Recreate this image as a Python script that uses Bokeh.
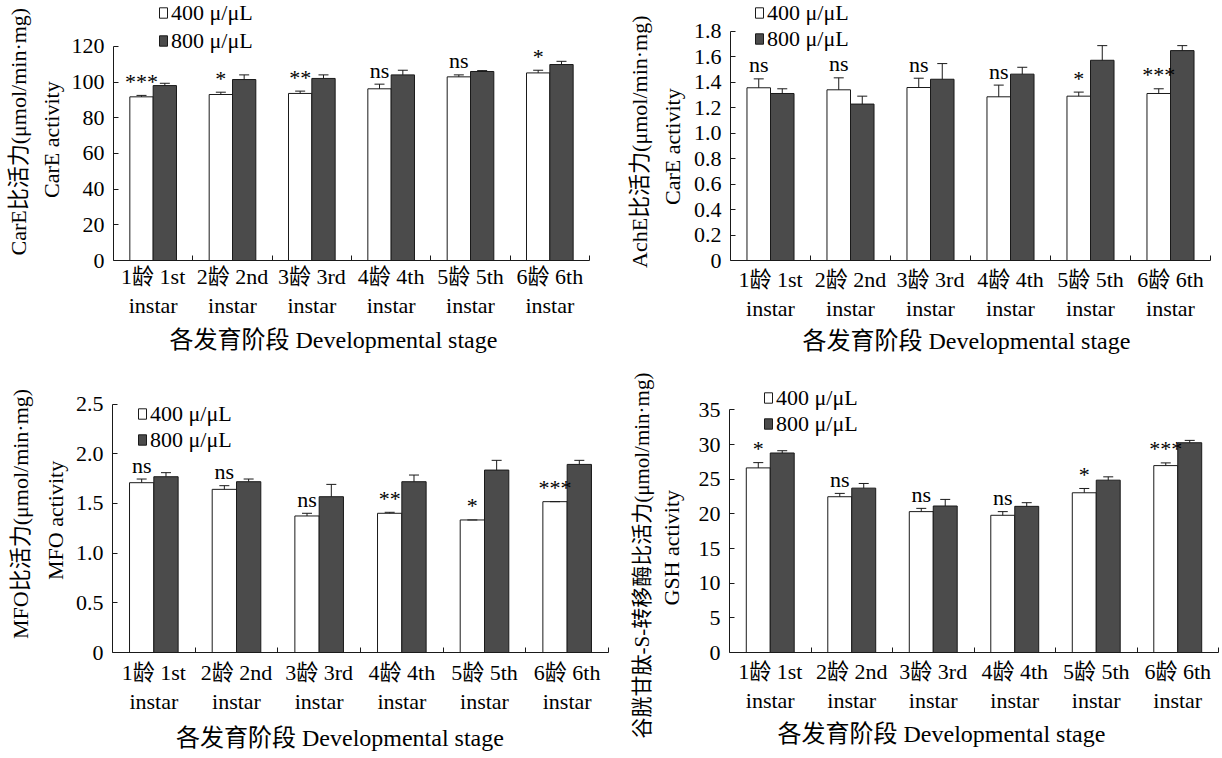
from bokeh.plotting import figure
from bokeh.models import (ColumnDataSource, Range1d, FixedTicker, Whisker, TeeHead,
                          Title, Legend, LegendItem)
from bokeh.layouts import column, row
from bokeh.transform import dodge
from bokeh.core.properties import value
from bokeh.embed import file_html
from bokeh.resources import INLINE

# ---------------- data ----------------
stages_cn = ["1龄", "2龄", "3龄", "4龄", "5龄", "6龄"]
stages_en = ["1st", "2nd", "3rd", "4th", "5th", "6th"]
stage_line2 = "instar"
series_names = ["400 μ/μL", "800 μ/μL"]
x_title = "各发育阶段 Developmental stage"

care_400 = [91.7, 93.0, 93.6, 96.2, 102.9, 105.1]
care_400_err = [0.8, 1.3, 1.3, 2.6, 1.1, 1.5]
care_800 = [98.0, 101.4, 102.0, 104.0, 105.9, 109.8]
care_800_err = [1.3, 2.6, 2.0, 2.6, 0.5, 1.8]
care_sig = ["***", "*", "**", "ns", "ns", "*"]
care_ticks = [0, 20, 40, 60, 80, 100, 120]
care_tick_labels = ["0", "20", "40", "60", "80", "100", "120"]
care_ylabel = ["CarE比活力(μmol/min·mg)", "CarE activity"]

ache_400 = [1.357, 1.341, 1.359, 1.286, 1.291, 1.312]
ache_400_err = [0.070, 0.094, 0.073, 0.092, 0.032, 0.037]
ache_800 = [1.312, 1.229, 1.424, 1.464, 1.573, 1.649]
ache_800_err = [0.037, 0.062, 0.123, 0.054, 0.115, 0.039]
ache_sig = ["ns", "ns", "ns", "ns", "*", "***"]
ache_ticks = [0, 0.2, 0.4, 0.6, 0.8, 1.0, 1.2, 1.4, 1.6, 1.8]
ache_tick_labels = ["0", "0.2", "0.4", "0.6", "0.8", "1.0", "1.2", "1.4", "1.6", "1.8"]
ache_ylabel = ["AchE比活力(μmol/min·mg)", "CarE activity"]

mfo_400 = [1.709, 1.642, 1.374, 1.401, 1.334, 1.518]
mfo_400_err = [0.037, 0.037, 0.027, 0.010, 0.0, 0.0]
mfo_800 = [1.769, 1.719, 1.568, 1.719, 1.836, 1.893]
mfo_800_err = [0.041, 0.027, 0.124, 0.067, 0.098, 0.041]
mfo_sig = ["ns", "ns", "ns", "**", "*", "***"]
mfo_ticks = [0, 0.5, 1.0, 1.5, 2.0, 2.5]
mfo_tick_labels = ["0", "0.5", "1.0", "1.5", "2.0", "2.5"]
mfo_ylabel = ["MFO比活力(μmol/min·mg)", "MFO activity"]

gsh_400 = [26.64, 22.48, 20.33, 19.80, 23.05, 26.97]
gsh_400_err = [0.76, 0.48, 0.47, 0.53, 0.62, 0.39]
gsh_800 = [28.79, 23.72, 21.14, 21.09, 24.87, 30.27]
gsh_800_err = [0.33, 0.67, 0.95, 0.53, 0.48, 0.34]
gsh_sig = ["*", "ns", "ns", "ns", "*", "***"]
gsh_ticks = [0, 5, 10, 15, 20, 25, 30, 35]
gsh_tick_labels = ["0", "5", "10", "15", "20", "25", "30", "35"]
gsh_ylabel = ["谷胱甘肽-S-转移酶比活力(μmol/min·mg)", "GSH activity"]

# ---------------- style ----------------
FONT = "Liberation Serif, Noto Sans CJK SC"
FS = "22px"
BW = 0.294
DARK = "#4b4b4b"
EDGE = "#1a1a1a"


def make_panel(W, H, bl, br, bb, axis_px, v4, e4, v8, e8, sig, ticks, tick_labels,
               ylab, ylab_fs, ylab_off, ylab_std, xl_std, xt_off, xt_std,
               leg_pos, leg_spacing):
    n = len(stages_cn)
    fh = H - bb                       # frame reaches the top of the canvas
    y_top = ticks[-1] * fh / axis_px  # extra room above the axis for legend
    p = figure(width=W, height=H, title=None, output_backend="svg", toolbar_location=None,
               x_range=Range1d(-0.5, n - 0.5), y_range=Range1d(0, y_top),
               min_border_left=bl, min_border_right=br, min_border_top=0,
               min_border_bottom=bb)
    p.outline_line_color = None
    p.grid.visible = False
    p.background_fill_color = "white"
    p.border_fill_color = "white"

    src = ColumnDataSource(dict(
        x=list(range(n)), v4=v4, t4=[a + b for a, b in zip(v4, e4)],
        v8=v8, t8=[a + b for a, b in zip(v8, e8)], sig=sig))

    r4 = p.vbar(x=dodge("x", -BW / 2), top="v4", bottom=0, width=BW, source=src,
                fill_color="white", line_color=EDGE, line_width=1)
    r8 = p.vbar(x=dodge("x", BW / 2), top="v8", bottom=0, width=BW, source=src,
                fill_color=DARK, line_color=EDGE, line_width=1)
    for off, lo, hi in ((-BW / 2, "v4", "t4"), (BW / 2, "v8", "t8")):
        p.add_layout(Whisker(source=src, base=dodge("x", off), lower=lo, upper=hi,
                             lower_head=None,
                             upper_head=TeeHead(size=10, line_color=EDGE, line_width=1),
                             line_color=EDGE, line_width=1, level="annotation"))
    p.text(x=dodge("x", -BW / 2), y="t4", text="sig", source=src, text_align="center",
           text_baseline="alphabetic", y_offset=-14, text_font=value(FONT),
           text_font_size=FS, text_color="black")

    xa = p.xaxis[0]
    xa.ticker = FixedTicker(ticks=list(range(n)), minor_ticks=[i + 0.5 for i in range(n)])
    xa.major_label_overrides = {i: f"{cn} {en}\n{stage_line2}"
                                for i, (cn, en) in enumerate(zip(stages_cn, stages_en))}
    xa.major_tick_in = 0
    xa.major_tick_out = 0
    xa.minor_tick_in = 5
    xa.minor_tick_out = 0
    xa.minor_tick_line_color = EDGE
    xa.axis_line_color = EDGE
    xa.major_label_text_font = FONT
    xa.major_label_text_font_size = FS
    xa.major_label_text_line_height = 1.16
    xa.major_label_standoff = xl_std
    xa.major_label_text_color = "black"

    ya = p.yaxis[0]
    ya.ticker = FixedTicker(ticks=ticks)
    ya.bounds = (0, ticks[-1])
    ya.major_label_overrides = {t: l for t, l in zip(ticks, tick_labels)}
    ya.major_tick_in = 5
    ya.major_tick_out = 0
    ya.minor_tick_line_color = None
    ya.axis_line_color = EDGE
    ya.major_tick_line_color = EDGE
    ya.major_label_text_font = FONT
    ya.major_label_text_font_size = FS
    ya.major_label_standoff = 9
    ya.major_label_text_color = "black"

    # y-axis title: line 2 next to the axis, line 1 outside it
    for txt, off, std, fs in ((ylab[1], ylab_off[1], ylab_std[1], FS),
                              (ylab[0], ylab_off[0], ylab_std[0], ylab_fs)):
        p.add_layout(Title(text=txt, align="left", offset=off, standoff=std,
                           text_font=FONT, text_font_size=fs, text_font_style="normal",
                           text_color="black"), "left")
    p.add_layout(Title(text=x_title, align="left", offset=xt_off, standoff=xt_std,
                       text_font=FONT, text_font_size="24px", text_font_style="normal",
                       text_color="black"), "below")

    leg = Legend(items=[LegendItem(label=series_names[0], renderers=[r4]),
                        LegendItem(label=series_names[1], renderers=[r8])],
                 location=leg_pos, glyph_width=10, glyph_height=13,
                 label_text_font=FONT, label_text_font_size=FS, label_standoff=3,
                 label_text_color="black",
                 border_line_color=None, background_fill_alpha=0, padding=0, margin=0,
                 spacing=leg_spacing, label_height=20)
    p.add_layout(leg)
    return p


p1 = make_panel(615, 356, 113, 26, 95, 215, care_400, care_400_err, care_800, care_800_err,
                care_sig, care_ticks, care_tick_labels, care_ylabel, FS,
                (5, 62.5), (4, 8.5), 3, 56, 8, (45, 206.5), 2)
p2 = make_panel(606, 356, 115, 11, 95, 230, ache_400, ache_400_err, ache_800, ache_800_err,
                ache_sig, ache_ticks, ache_tick_labels, ache_ylabel, FS,
                (-7.5, 55.5), (1.5, 10.5), 6, 72, 5, (24, 208.5), 0)
p3 = make_panel(615, 401, 112, 7, 105, 248.4, mfo_400, mfo_400_err, mfo_800, mfo_800_err,
                mfo_sig, mfo_ticks, mfo_tick_labels, mfo_ylabel, FS,
                (13.5, 72.5), (8, 9), 7, 63.5, 12, (25, 199.5), -4)
p4 = make_panel(606, 401, 114, 3, 102, 245, gsh_400, gsh_400_err, gsh_800, gsh_800_err,
                gsh_sig, gsh_ticks, gsh_tick_labels, gsh_ylabel, "21px",
                (-86, 47), (-16, 22.5), 6, 48, 6, (34, 215.5), -3)

layout = column(row(p1, p2, spacing=0), row(p3, p4, spacing=0), spacing=0)
open("out.html", "w").write(file_html(layout, INLINE))
